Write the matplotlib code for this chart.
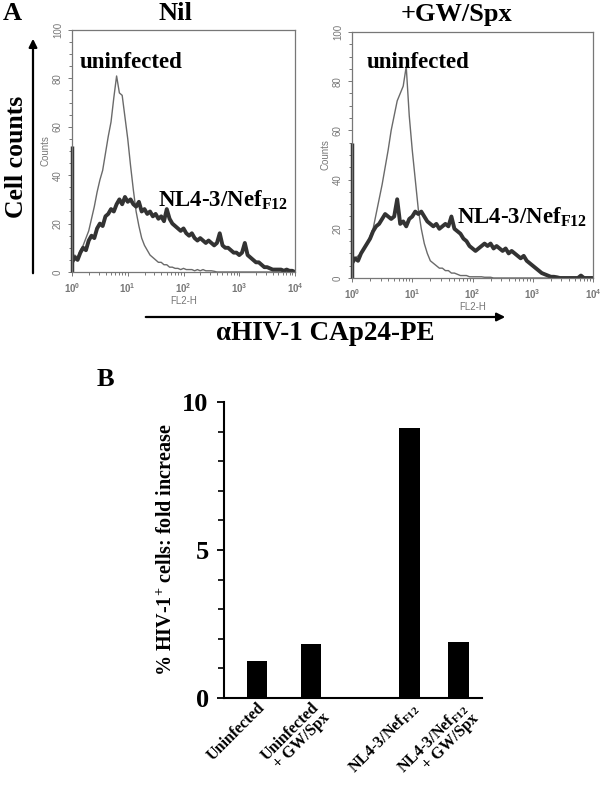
import numpy as np
import matplotlib
matplotlib.use("Agg")
import matplotlib.pyplot as plt
from matplotlib.patches import FancyArrowPatch
from matplotlib.ticker import MultipleLocator, LogLocator, FixedLocator

plt.rcParams['font.family'] = ['Liberation Serif', 'DejaVu Serif']
plt.rcParams['font.weight'] = 'bold'
plt.rcParams['axes.labelweight'] = 'bold'
plt.rcParams['mathtext.fontset'] = 'custom'
plt.rcParams['mathtext.rm'] = 'Liberation Serif:bold'
plt.rcParams['mathtext.it'] = 'Liberation Serif:bold'
plt.rcParams['mathtext.bf'] = 'Liberation Serif:bold'
plt.rcParams['mathtext.sf'] = 'Liberation Sans'

# --- panel A: flow histograms (log10 FL2-H bins, counts) ---
log_fl2 = np.round(np.arange(0, 4.001, 0.05), 2)

uninf_nil = [5, 7, 6, 9, 11, 14, 17, 22, 27, 33,
             38, 42, 49, 56, 62, 72, 81, 74, 73, 64,
             55, 44, 34, 25, 19, 14, 11, 9, 7, 6,
             5, 4, 4, 3, 3, 2, 2, 1.5, 1.5, 1,
             1.5, 1, 1, 1, 0.5, 1, 0.5, 1, 0.5, 0.5,
             0.5, 0.3, 0, 0, 0, 0, 0, 0, 0, 0,
             0, 0, 0, 0, 0, 0, 0, 0, 0, 0,
             0, 0, 0, 0, 0, 0, 0, 0, 0, 0, 0]
nl_nil = [4, 6, 5, 8, 10, 9, 13, 15, 14, 18,
          20, 19, 23, 24, 26, 25, 28, 30, 28, 31,
          29, 30, 28, 27, 29, 25, 26, 24, 25, 23,
          24, 22, 23, 21, 26, 22, 20, 19, 18, 17,
          18, 16, 15, 16, 14, 13, 14, 13, 12, 13,
          12, 11, 12, 16, 11, 10, 10, 9, 8, 8,
          7, 8, 12, 7, 6, 5, 4, 4, 3, 2,
          2, 1.5, 1, 1, 1, 1, 0.5, 1, 0.5, 0.5, 0]
uninf_gw = [6, 8, 9, 10, 12, 14, 17, 20, 26, 32,
            38, 45, 52, 60, 66, 72, 75, 78, 86, 66,
            52, 40, 28, 20, 14, 10, 7, 6, 5, 4,
            4, 3, 3, 2, 2, 1.5, 1, 1, 1, 0.5,
            0.5, 0.5, 0.5, 0.5, 0.3, 0.3, 0.3, 0, 0, 0,
            0, 0, 0, 0, 0, 0, 0, 0, 0, 0,
            0, 0, 0, 0, 0, 0, 0, 0, 0, 0,
            0, 0, 0, 0, 0, 0, 0, 0, 0, 0, 0]
nl_gw = [6, 8, 7, 10, 12, 14, 16, 19, 21, 22,
         24, 26, 25, 24, 25, 32, 22, 23, 21, 24,
         25, 27, 26, 27, 25, 23, 22, 21, 22, 20,
         21, 22, 21, 25, 20, 19, 18, 16, 15, 13,
         12, 11, 12, 13, 14, 13, 14, 12, 13, 12,
         11, 12, 10, 11, 10, 9, 8, 9, 7, 6,
         5, 4, 3, 2, 1.5, 1, 0.5, 0.5, 0.3, 0,
         0, 0, 0, 0, 0, 0, 1, 0, 0, 0, 0]
first_channel = [52, 55]   # pile-up in the lowest channel (Nil, GW/Spx)

panel_titles = ['Nil', '+GW/Spx']

# --- panel B: fold increase ---
conditions = ['Uninfected', 'Uninfected\n+ GW/Spx',
              r'NL4-3/Nef$_{\mathrm{F12}}$', 'NL4-3/Nef$_{\\mathrm{F12}}$\n+ GW/Spx']
fold = [1.25, 1.82, 9.12, 1.89]
bar_pos = [0, 1, 2.8, 3.7]

W, H = 600, 785
fig = plt.figure(figsize=(W / 100, H / 100), dpi=100)

def fx(x):
    return x / W

def fy(y):
    return 1 - y / H

def box(x0, y0, x1, y1):
    return [fx(x0), fy(y1), fx(x1) - fx(x0), fy(y0) - fy(y1)]

gray = '#777777'
hist_axes = [box(72, 30, 295, 272), box(352, 32, 593, 278)]
curves = [(uninf_nil, nl_nil), (uninf_gw, nl_gw)]

for i, rect in enumerate(hist_axes):
    ax = fig.add_axes(rect)
    un, nl = curves[i]
    x = 10 ** log_fl2
    ax.plot(x, un, color='#6a6a6a', lw=1.0)
    ax.plot(x, nl, color='#333333', lw=2.8)
    ax.vlines(1, 0, first_channel[i], color='#333333', lw=2.5, clip_on=False)
    ax.set_xscale('log')
    ax.set_xlim(1, 1e4)
    ax.set_ylim(0, 100)
    ax.xaxis.set_major_locator(FixedLocator([1, 10, 100, 1000, 10000]))
    ax.xaxis.set_minor_locator(LogLocator(base=10, subs=np.arange(2, 10)))
    ax.set_xticklabels([r'$\mathsf{10^{%d}}$' % k for k in range(5)])
    ax.yaxis.set_major_locator(MultipleLocator(20))
    ax.yaxis.set_minor_locator(MultipleLocator(5))
    for lab in ax.get_yticklabels():
        lab.set_rotation(90)
        lab.set_va('center')
    ax.tick_params(which='both', direction='out', color=gray, labelcolor=gray,
                   labelsize=7, width=0.7)
    ax.tick_params(which='major', length=3)
    ax.tick_params(which='minor', length=2)
    for lab in ax.get_yticklabels() + ax.get_xticklabels():
        lab.set_family('Liberation Sans')
        lab.set_weight('normal')
    for sp in ax.spines.values():
        sp.set_color(gray)
        sp.set_linewidth(0.9)
    ax.set_ylabel('Counts', family='Liberation Sans', fontweight='normal',
                  color=gray, fontsize=7, labelpad=2)
    ax.set_xlabel('FL2-H', family='Liberation Sans', fontweight='normal',
                  color=gray, fontsize=7, labelpad=1)

# panel A texts
fig.text(fx(12), fy(14), 'A', fontsize=19, ha='center', va='center')
fig.text(fx(175), fy(14), panel_titles[0], fontsize=19, ha='center', va='center')
fig.text(fx(457), fy(15), panel_titles[1], fontsize=19, ha='center', va='center')
fig.text(fx(80), fy(63), 'uninfected', fontsize=16.5, ha='left', va='center')
fig.text(fx(367), fy(63), 'uninfected', fontsize=16.5, ha='left', va='center')
fig.text(fx(158), fy(200), r'NL4-3/Nef$_{\mathrm{F12}}$', fontsize=16.5,
         ha='left', va='center')
fig.text(fx(457), fy(217), r'NL4-3/Nef$_{\mathrm{F12}}$', fontsize=16.5,
         ha='left', va='center')
fig.text(fx(17), fy(157), 'Cell counts', fontsize=18.5, rotation=90,
         ha='center', va='center')
fig.text(fx(325), fy(334), 'αHIV-1 CAp24-PE', fontsize=19.5, ha='center', va='center')

fig.add_artist(FancyArrowPatch((fx(33), fy(276)), (fx(33), fy(36)),
                               transform=fig.transFigure, arrowstyle='-|>',
                               mutation_scale=12, lw=1.6, color='black'))
fig.add_artist(FancyArrowPatch((fx(143), fy(317)), (fx(508), fy(317)),
                               transform=fig.transFigure, arrowstyle='-|>',
                               mutation_scale=12, lw=1.6, color='black'))

# panel B
axb = fig.add_axes(box(224, 402, 482, 698))
axb.bar(bar_pos, fold, width=0.37, color='black')
axb.set_xlim(-0.6, 4.13)
axb.set_ylim(0, 10)
axb.spines['top'].set_visible(False)
axb.spines['right'].set_visible(False)
axb.spines['left'].set_linewidth(1.5)
axb.spines['bottom'].set_linewidth(1.5)
axb.yaxis.set_major_locator(FixedLocator([0, 5, 10]))
axb.yaxis.set_minor_locator(MultipleLocator(1))
axb.tick_params(axis='y', which='major', length=5, width=1.3, labelsize=19, pad=6)
axb.tick_params(axis='y', which='minor', length=4, width=1.2)
axb.set_xticks(bar_pos)
axb.set_xticklabels(conditions, rotation=45, ha='right', rotation_mode='anchor',
                    fontsize=11.5, linespacing=0.85)
axb.tick_params(axis='x', length=0, pad=1)
axb.set_ylabel(r'% HIV-1$^{+}$ cells: fold increase', fontsize=14.5, labelpad=4)
fig.text(fx(105), fy(379), 'B', fontsize=19, ha='center', va='center')

fig.savefig('out.png', dpi=100)
